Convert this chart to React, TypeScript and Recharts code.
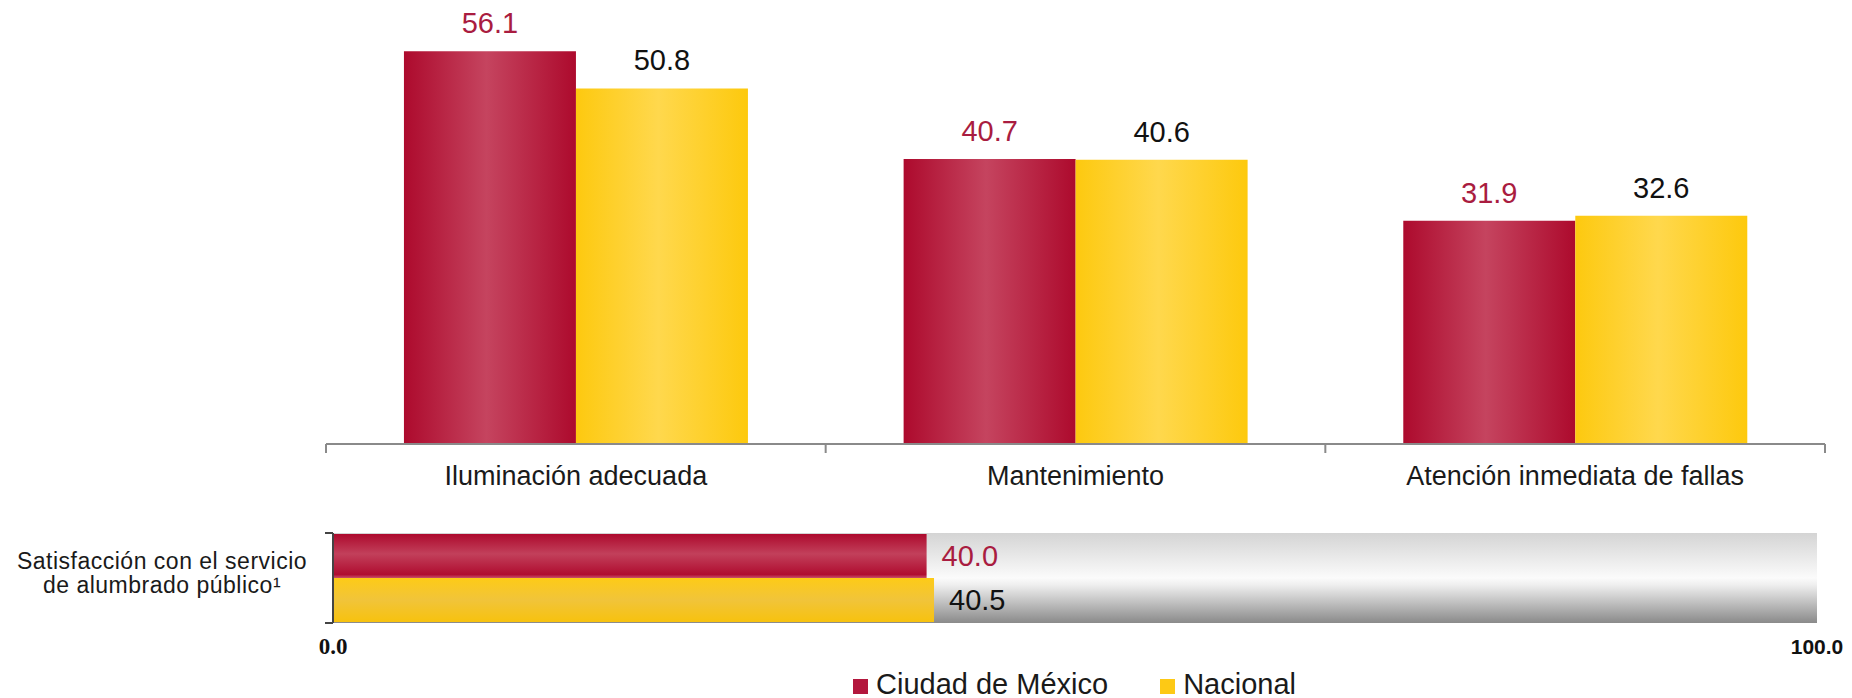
import React from "react";
import { BarChart, Bar, XAxis, YAxis, LabelList, ReferenceArea, Legend } from "recharts";

const categories = ["Iluminación adecuada", "Mantenimiento", "Atención inmediata de fallas"];
const cdmxValues = [56.1, 40.7, 31.9];
const nacionalValues = [50.8, 40.6, 32.6];

const satisfaccionLines = ["Satisfacción con el servicio", "de alumbrado público¹"];
const satisfaccionCdmx = [40.0];
const satisfaccionNacional = [40.5];

const seriesNames = ["Ciudad de México", "Nacional"];
const bottomTicks = [0, 100];

const FONT = "'Liberation Sans', Arial, sans-serif";
const RED_TEXT = "#a91c40";

const topData = categories.map((name, i) => ({
  name,
  cdmx: cdmxValues[i],
  nacional: nacionalValues[i],
}));

const bottomData = satisfaccionCdmx.map((v, i) => ({
  name: satisfaccionLines.join(" "),
  cdmx: v,
  nacional: satisfaccionNacional[i],
}));

const fmt = (v: any) => Number(v).toFixed(1);

// category label plus tick marks on the band edges (payload.offset = half band)
function CategoryTick(props: any) {
  const { x, y, payload, index, visibleTicksCount } = props;
  const half = payload.offset || 0;
  const last = index === visibleTicksCount - 1;
  return (
    <g>
      <line x1={x - half} x2={x - half} y1={y - 9} y2={y} stroke="#8a8a8a" strokeWidth={2} />
      {last && <line x1={x + half} x2={x + half} y1={y - 9} y2={y} stroke="#8a8a8a" strokeWidth={2} />}
      <text x={x} y={y + 32} textAnchor="middle" fontSize={27} fontFamily={FONT} fill="#1a1a1a">
        {payload.value}
      </text>
    </g>
  );
}

function LeftTick(props: any) {
  const { x, y, payload } = props;
  const half = payload.offset || 0;
  return (
    <g>
      <line x1={x} x2={x + 8} y1={y - half} y2={y - half} stroke="#444" strokeWidth={2} />
      <line x1={x} x2={x + 8} y1={y + half} y2={y + half} stroke="#444" strokeWidth={2} />
      <text textAnchor="middle" fontSize={23} letterSpacing={0.5} fontFamily={FONT} fill="#1a1a1a">
        <tspan x={x - 163} y={y - 9}>{satisfaccionLines[0]}</tspan>
        <tspan x={x - 163} y={y + 15}>{satisfaccionLines[1]}</tspan>
      </text>
    </g>
  );
}

function BottomTick(props: any) {
  const { x, y, payload } = props;
  const serif = payload.value === 0;
  return (
    <text
      x={x}
      y={y + 23}
      textAnchor="middle"
      fontSize={serif ? 23 : 21}
      fontWeight="bold"
      fontFamily={serif ? "'Liberation Serif', 'Times New Roman', serif" : FONT}
      fill="#111"
    >
      {fmt(payload.value)}
    </text>
  );
}

function renderLegend() {
  const colors = ["#b3173d", "#fdc915"];
  return (
    <div
      style={{
        display: "flex",
        paddingLeft: 853,
        paddingTop: 17,
        fontFamily: FONT,
        fontSize: 29,
        lineHeight: "29px",
        color: "#1a1a1a",
        whiteSpace: "nowrap",
      }}
    >
      {seriesNames.map((name, i) => (
        <span key={name} style={{ marginRight: 52 }}>
          <span
            style={{
              display: "inline-block",
              width: 15,
              height: 15,
              background: colors[i],
              marginRight: 8,
            }}
          />
          {name}
        </span>
      ))}
    </div>
  );
}

export default function App() {
  return (
    <div style={{ position: "absolute", left: 0, top: 0, width: 1852, height: 698, background: "#fff" }}>
      <div style={{ position: "absolute", left: 0, top: 0 }}>
        <BarChart
          width={1852}
          height={500}
          data={topData}
          margin={{ top: 24, right: 27, bottom: 16, left: 326 }}
          barCategoryGap="15.6%"
          barGap={0}
        >
          <defs>
            <linearGradient id="redV" x1="0" y1="0" x2="1" y2="0">
              <stop offset="0%" stopColor="#ad0a2d" />
              <stop offset="48%" stopColor="#c5445f" />
              <stop offset="100%" stopColor="#ad0a2d" />
            </linearGradient>
            <linearGradient id="yellowV" x1="0" y1="0" x2="1" y2="0">
              <stop offset="0%" stopColor="#fdc90f" />
              <stop offset="48%" stopColor="#ffd84d" />
              <stop offset="100%" stopColor="#fdc90d" />
            </linearGradient>
          </defs>
          <YAxis hide domain={[0, 60]} />
          <XAxis
            dataKey="name"
            height={40}
            interval={0}
            tickSize={9}
            tickMargin={0}
            axisLine={{ stroke: "#8a8a8a", strokeWidth: 2 }}
            tickLine={false}
            tick={<CategoryTick />}
          />
          <Bar dataKey="cdmx" fill="url(#redV)" isAnimationActive={false}>
            <LabelList
              dataKey="cdmx"
              position="top"
              offset={18}
              formatter={fmt}
              fill={RED_TEXT}
              fontSize={29}
              fontFamily={FONT}
            />
          </Bar>
          <Bar dataKey="nacional" fill="url(#yellowV)" isAnimationActive={false}>
            <LabelList
              dataKey="nacional"
              position="top"
              offset={18}
              formatter={fmt}
              fill="#111"
              fontSize={29}
              fontFamily={FONT}
            />
          </Bar>
        </BarChart>
      </div>
      <div style={{ position: "absolute", left: 0, top: 500 }}>
        <BarChart
          layout="vertical"
          width={1852}
          height={198}
          data={bottomData}
          margin={{ top: 33, right: 35, bottom: 5, left: 0 }}
          barCategoryGap={1}
          barGap={0}
        >
          <defs>
            <linearGradient id="redH" x1="0" y1="0" x2="0" y2="1">
              <stop offset="0%" stopColor="#ad0a2d" />
              <stop offset="45%" stopColor="#c2405b" />
              <stop offset="92%" stopColor="#b00d30" />
              <stop offset="100%" stopColor="#c8506a" />
            </linearGradient>
            <linearGradient id="yellowH" x1="0" y1="0" x2="0" y2="1">
              <stop offset="0%" stopColor="#fdcb17" />
              <stop offset="50%" stopColor="#f1c43a" />
              <stop offset="100%" stopColor="#f7c20e" />
            </linearGradient>
            <linearGradient id="grayH" x1="0" y1="0" x2="0" y2="1">
              <stop offset="0%" stopColor="#d4d4d4" />
              <stop offset="50%" stopColor="#fbfbfb" />
              <stop offset="58%" stopColor="#eeeeee" />
              <stop offset="100%" stopColor="#8a8a8a" />
            </linearGradient>
          </defs>
          <XAxis
            type="number"
            domain={[0, 100]}
            ticks={bottomTicks}
            height={30}
            axisLine={false}
            tickLine={false}
            tick={<BottomTick />}
          />
          <YAxis
            type="category"
            dataKey="name"
            width={333}
            tickSize={8}
            tickMargin={0}
            axisLine={{ stroke: "#444", strokeWidth: 2 }}
            tickLine={false}
            tick={<LeftTick />}
          />
          <ReferenceArea x1={0} x2={100} fill="url(#grayH)" fillOpacity={1} stroke="none" />
          <Bar dataKey="cdmx" fill="url(#redH)" isAnimationActive={false}>
            <LabelList
              dataKey="cdmx"
              position="right"
              offset={15}
              formatter={fmt}
              fill={RED_TEXT}
              fontSize={29}
              fontFamily={FONT}
            />
          </Bar>
          <Bar dataKey="nacional" fill="url(#yellowH)" isAnimationActive={false}>
            <LabelList
              dataKey="nacional"
              position="right"
              offset={15}
              formatter={fmt}
              fill="#111"
              fontSize={29}
              fontFamily={FONT}
            />
          </Bar>
          <Legend
            verticalAlign="bottom"
            align="left"
            height={40}
            content={renderLegend}
            wrapperStyle={{ left: 0, width: 1852 }}
          />
        </BarChart>
      </div>
    </div>
  );
}
